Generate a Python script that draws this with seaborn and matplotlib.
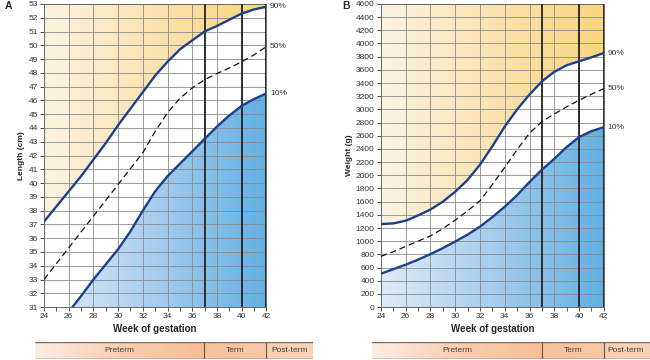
import seaborn as sns
import matplotlib.pyplot as plt
import numpy as np
from matplotlib.colors import LinearSegmentedColormap

# gestation weeks
weeks = [24, 25, 26, 27, 28, 29, 30, 31, 32, 33, 34, 35, 36, 37, 38, 39, 40, 41, 42]

# A: length (cm)
len_p90 = [37.2, 38.3, 39.4, 40.5, 41.7, 42.9, 44.2, 45.4, 46.6, 47.8, 48.8, 49.7, 50.35,
           51.0, 51.4, 51.85, 52.3, 52.6, 52.8]
len_p50 = [33.0, 34.15, 35.3, 36.45, 37.6, 38.75, 39.9, 41.05, 42.2, 43.75, 45.1, 46.15, 46.9,
           47.5, 47.95, 48.35, 48.8, 49.3, 49.9]
len_p10_weeks = [26.3, 27, 28, 29, 30, 31, 32, 33, 34, 35, 36, 37, 38, 39, 40, 41, 42]
len_p10 = [31.0, 31.8, 33.0, 34.1, 35.2, 36.5, 38.0, 39.4, 40.5, 41.4, 42.3, 43.2, 44.1,
           44.9, 45.6, 46.1, 46.5]

# B: weight (g)
wt_p90 = [1260, 1270, 1310, 1390, 1480, 1600, 1750, 1930, 2160, 2440, 2740, 3000, 3225,
          3425, 3570, 3670, 3730, 3790, 3855]
wt_p50 = [770, 840, 920, 1000, 1080, 1190, 1320, 1460, 1613, 1860, 2120, 2390, 2640,
          2815, 2930, 3040, 3140, 3230, 3315]
wt_p10 = [507, 575, 643, 720, 804, 895, 995, 1100, 1221, 1365, 1523, 1700, 1899,
          2085, 2250, 2430, 2580, 2670, 2730]

phases = ['Preterm', 'Term', 'Post-term']
phase_bounds = [37, 42]

sns.set_theme(style='white')
plt.rcParams['font.family'] = ['Liberation Sans', 'DejaVu Sans']

navy = '#1d3f8c'
warm = LinearSegmentedColormap.from_list('warm', ['#fdf3e2', '#fbe3b0', '#f8d47e'])
cool = LinearSegmentedColormap.from_list('cool', ['#dfebf7', '#a6cdee', '#62b0e3'])
peach = LinearSegmentedColormap.from_list('peach', ['#fdede2', '#f8cfb2', '#f6bd96'])
term_c = LinearSegmentedColormap.from_list('term', ['#f7c29c', '#f8c8a6'])
post_c = LinearSegmentedColormap.from_list('post', ['#f9cfb0', '#f9d3b6'])
grad = np.linspace(0, 1, 256).reshape(1, -1)

fig = plt.figure(figsize=(6.5, 3.6), dpi=100)


def panel(rect, x, top, mid, low_x, low, ymin, ymax, ystep, ylabel, letter):
    ax = fig.add_axes(rect)
    ax.set_xlim(24, 42)
    ax.set_ylim(ymin, ymax)
    poly_top = ax.fill_between(x, top, ymax, color='none', lw=0)
    im = ax.imshow(grad, cmap=warm, extent=[24, 42, ymin, ymax], aspect='auto', zorder=0)
    im.set_clip_path(poly_top.get_paths()[0], transform=ax.transData)
    poly_low = ax.fill_between(low_x, ymin, low, color='none', lw=0)
    im2 = ax.imshow(grad, cmap=cool, extent=[24, 42, ymin, ymax], aspect='auto', zorder=0)
    im2.set_clip_path(poly_low.get_paths()[0], transform=ax.transData)

    # grid
    for yv in np.arange(ymin, ymax + ystep / 2, ystep):
        ax.axhline(yv, color='#8a8a8a', lw=0.6, zorder=1)
    for xv in range(26, 42, 2):
        ax.axvline(xv, color='#8a8a8a', lw=0.6, zorder=1)
    for xv in [37, 40, 42]:
        ax.axvline(xv, color='#222222', lw=1.3, zorder=3)

    sns.lineplot(x=x, y=top, ax=ax, color=navy, lw=1.7, zorder=4)
    sns.lineplot(x=x, y=mid, ax=ax, color='#111111', lw=0.9, zorder=4,
                 linestyle=(0, (5, 3)))
    sns.lineplot(x=low_x, y=low, ax=ax, color=navy, lw=1.7, zorder=4)

    for val, lab in [(top[-1], '90%'), (mid[-1], '50%'), (low[-1], '10%')]:
        ax.text(42.3, val, lab, fontsize=6, color='#333333', va='center')

    ax.set_xticks(range(24, 43, 2))
    ax.set_xticks(range(25, 42, 2), minor=True)
    ax.set_yticks(np.arange(ymin, ymax + ystep / 2, ystep))
    ax.tick_params(axis='both', labelsize=6, colors='#333333', length=3, width=0.6,
                   direction='out', pad=1.5, left=True, bottom=True)
    ax.tick_params(axis='x', which='minor', length=3, width=0.6, bottom=True, color='#333333')
    for s in ax.spines.values():
        s.set_color('#666666')
        s.set_linewidth(0.7)
    ax.set_xlabel('Week of gestation', fontsize=7, fontweight='bold', labelpad=3)
    ax.set_ylabel(ylabel, fontsize=6, fontweight='bold', labelpad=2)
    fig.text(rect[0] - 0.06, 0.975, letter, fontsize=7.5, fontweight='bold')
    return ax


def phase_bar(ax_left_px, ax_right_px, left_px, right_px, text_right_px):
    # x axis in gestation weeks so the dividers line up with the chart above
    ppw = (ax_right_px - ax_left_px) / 18
    x0 = 24 - (ax_left_px - left_px) / ppw
    x1 = 42 + (right_px - ax_right_px) / ppw
    bx = fig.add_axes([left_px / 650, 0.003, (right_px - left_px) / 650, 0.047])
    bx.set_xlim(x0, x1)
    bx.set_ylim(0, 1)
    edges = [x0] + phase_bounds + [x1]
    for cm, a, b in zip([peach, term_c, post_c], edges[:-1], edges[1:]):
        bx.imshow(grad, cmap=cm, extent=[a, b, 0, 1], aspect='auto', zorder=0)
    text_edges = [x0] + phase_bounds + [42 + (text_right_px - ax_right_px) / ppw]
    for i, name in enumerate(phases):
        bx.text((text_edges[i] + text_edges[i + 1]) / 2, 0.5, name, ha='center',
                va='center', fontsize=6, color='#444444')
    for xv in phase_bounds:
        bx.axvline(xv, color='#555555', lw=0.8)
    bx.axhline(1, color='#7a6a60', lw=1.0)
    bx.axhline(0, color='#333333', lw=1.0)
    bx.set_xticks([])
    bx.set_yticks([])
    for s in bx.spines.values():
        s.set_visible(False)


panel([0.0677, 0.147, 0.342, 0.842], weeks, len_p90, len_p50, len_p10_weeks, len_p10,
      31, 53, 1, 'Length (cm)', 'A')
panel([0.586, 0.147, 0.343, 0.842], weeks, wt_p90, wt_p50, weeks, wt_p10,
      0, 4600, 200, 'Weight (g)', 'B')

phase_bar(44, 266, 35, 313, 313)
phase_bar(381, 604, 372, 650, 647)

fig.savefig('out.png', dpi=100)
